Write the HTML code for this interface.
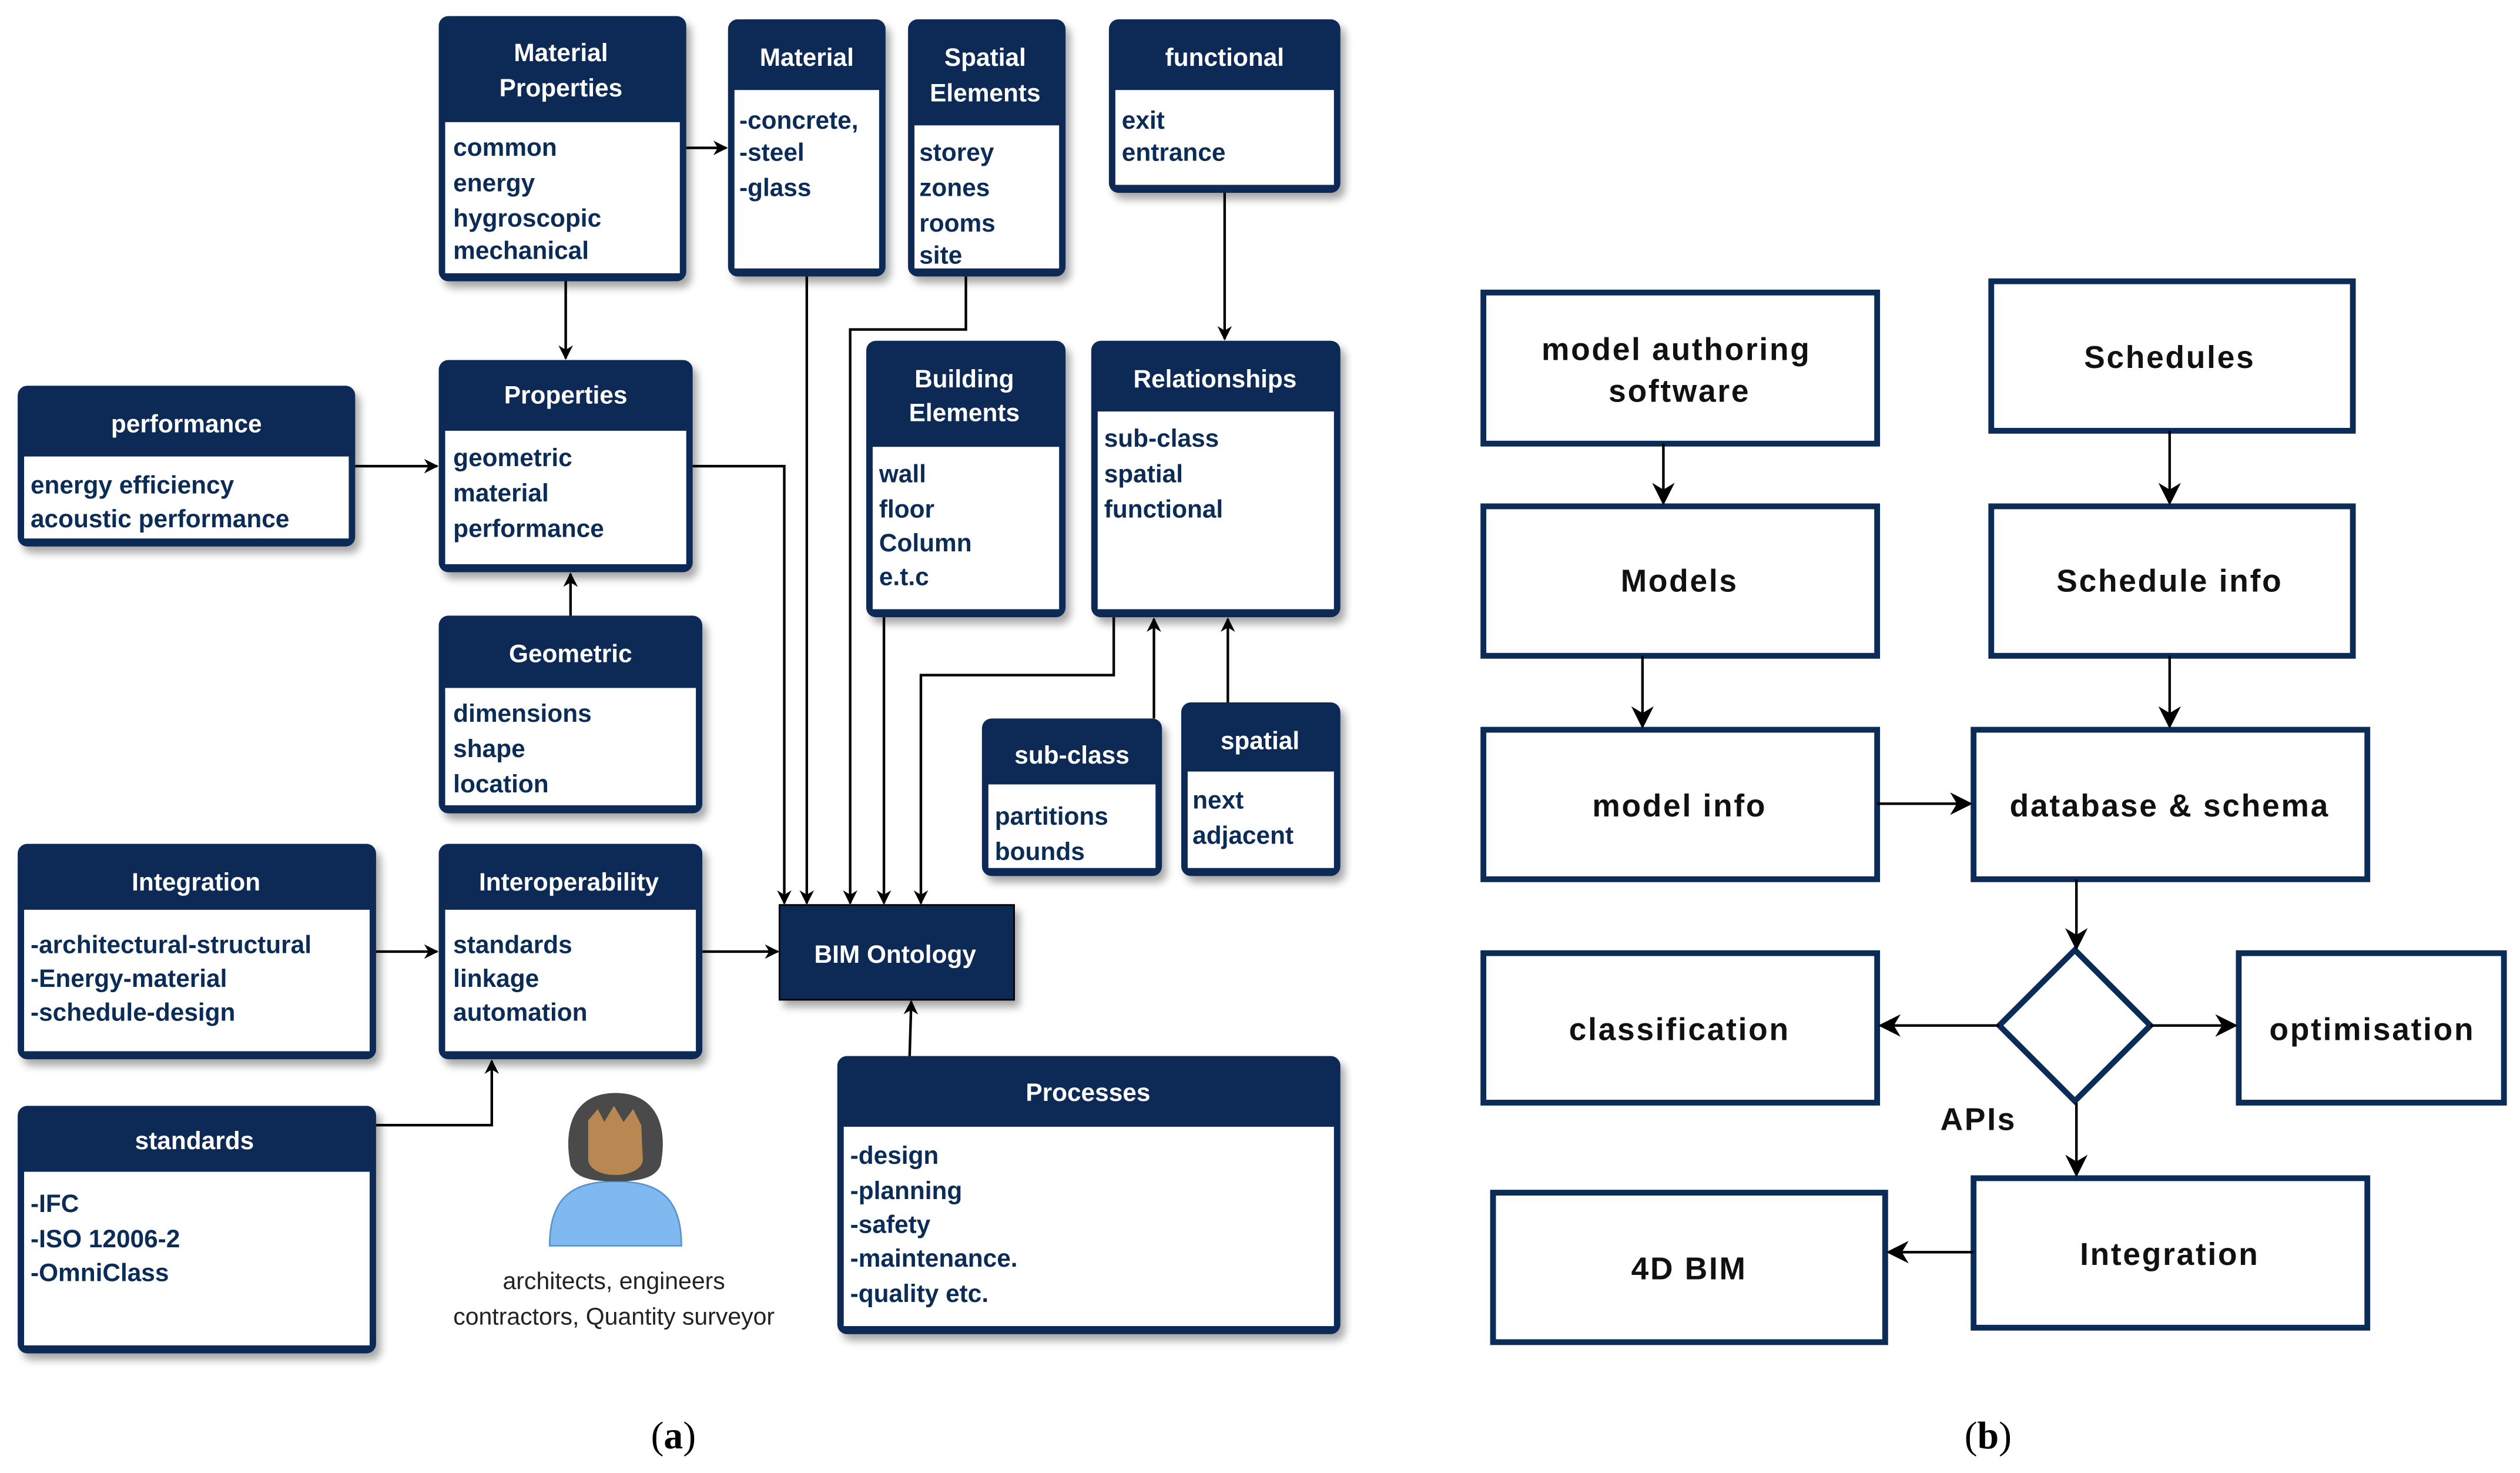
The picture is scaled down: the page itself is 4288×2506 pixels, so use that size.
<!DOCTYPE html>
<html><head><meta charset="utf-8">
<style>
html,body{margin:0;padding:0;background:#fff;width:4288px;height:2506px;overflow:hidden}
svg{display:block}
.t{font-family:"Liberation Sans",sans-serif;font-weight:bold;font-size:15.5px;fill:#fff}
.b{font-family:"Liberation Sans",sans-serif;font-weight:bold;font-size:15.5px;fill:#0b2c57}
.r{font-family:"Liberation Sans",sans-serif;font-weight:bold;font-size:19.5px;fill:#111;letter-spacing:1px}
.c{font-family:"Liberation Sans",sans-serif;font-size:15px;fill:#222}
.l{fill:none;stroke:#000;stroke-width:1.6}
.bx{fill:#fff;stroke:#0b2c57;stroke-width:3.6}
</style></head><body>
<svg width="4288" height="2506" viewBox="0 0 1568 916.4" preserveAspectRatio="none" xmlns="http://www.w3.org/2000/svg">
<defs>
<marker id="a" viewBox="0 0 10 10" refX="9" refY="5" markerWidth="9" markerHeight="9" markerUnits="userSpaceOnUse" orient="auto"><path d="M0,0 L10,5 L0,10 L3,5 z" fill="#000"/></marker>
<marker id="a2" viewBox="0 0 10 10" refX="9" refY="5" markerWidth="14" markerHeight="14" markerUnits="userSpaceOnUse" orient="auto"><path d="M0,0 L10,5 L0,10 L3,5 z" fill="#000"/></marker>
<filter id="sh" x="-10%" y="-10%" width="130%" height="130%"><feGaussianBlur in="SourceAlpha" stdDeviation="2.5"/><feOffset dx="3" dy="4"/><feComponentTransfer><feFuncA type="linear" slope="0.35"/></feComponentTransfer><feMerge><feMergeNode/><feMergeNode in="SourceGraphic"/></feMerge></filter>
</defs>
<rect width="1568" height="916.4" fill="#fff"/>

<!-- connectors left -->
<g class="l">
<path d="M427,92 H452" marker-end="url(#a)"/>
<path d="M352,175 V223" marker-end="url(#a)"/>
<path d="M221,290 H272" marker-end="url(#a)"/>
<path d="M355,383 V357" marker-end="url(#a)"/>
<path d="M431,290 H488 V562" marker-end="url(#a)"/>
<path d="M502,172 V562" marker-end="url(#a)"/>
<path d="M601,172 V205 H529 V562" marker-end="url(#a)"/>
<path d="M550,384 V562" marker-end="url(#a)"/>
<path d="M693,384 V420 H573 V562" marker-end="url(#a)"/>
<path d="M762,120 V211" marker-end="url(#a)"/>
<path d="M718,447 V385" marker-end="url(#a)"/>
<path d="M764,437 V385" marker-end="url(#a)"/>
<path d="M234,592 H272" marker-end="url(#a)"/>
<path d="M437,592 H484" marker-end="url(#a)"/>
<path d="M234,700 H306 V660" marker-end="url(#a)"/>
<path d="M566,657 L567,623" marker-end="url(#a)"/>
</g>

<!-- boxes left -->
<g filter="url(#sh)">
<!-- Material Properties -->
<rect x="273" y="10" width="154" height="165" rx="6" fill="#0b2c57"/><rect x="277" y="76" width="146" height="94" fill="#fff"/>
<!-- Material -->
<rect x="453" y="12" width="98" height="160" rx="6" fill="#0b2c57"/><rect x="457" y="56" width="90" height="111" fill="#fff"/>
<!-- Spatial -->
<rect x="565" y="12" width="98" height="160" rx="6" fill="#0b2c57"/><rect x="569" y="78" width="90" height="89" fill="#fff"/>
<!-- functional -->
<rect x="690" y="12" width="144" height="108" rx="6" fill="#0b2c57"/><rect x="694" y="56" width="136" height="59" fill="#fff"/>
<!-- Properties -->
<rect x="273" y="224" width="158" height="132" rx="6" fill="#0b2c57"/><rect x="277" y="268" width="150" height="83" fill="#fff"/>
<!-- performance -->
<rect x="11" y="240" width="210" height="100" rx="6" fill="#0b2c57"/><rect x="15" y="284" width="202" height="51" fill="#fff"/>
<!-- Building Elements -->
<rect x="539" y="212" width="124" height="172" rx="6" fill="#0b2c57"/><rect x="543" y="278" width="116" height="101" fill="#fff"/>
<!-- Relationships -->
<rect x="679" y="212" width="155" height="172" rx="6" fill="#0b2c57"/><rect x="683" y="256" width="147" height="123" fill="#fff"/>
<!-- Geometric -->
<rect x="273" y="383" width="164" height="123" rx="6" fill="#0b2c57"/><rect x="277" y="428" width="156" height="73" fill="#fff"/>
<!-- sub-class -->
<rect x="611" y="447" width="112" height="98" rx="6" fill="#0b2c57"/><rect x="615" y="488" width="104" height="52" fill="#fff"/>
<!-- spatial -->
<rect x="735" y="437" width="99" height="108" rx="6" fill="#0b2c57"/><rect x="739" y="480" width="91" height="60" fill="#fff"/>
<!-- Integration -->
<rect x="11" y="525" width="223" height="134" rx="6" fill="#0b2c57"/><rect x="15" y="566" width="215" height="88" fill="#fff"/>
<!-- Interoperability -->
<rect x="273" y="525" width="164" height="134" rx="6" fill="#0b2c57"/><rect x="277" y="566" width="156" height="88" fill="#fff"/>
<!-- standards -->
<rect x="11" y="688" width="223" height="154" rx="6" fill="#0b2c57"/><rect x="15" y="729" width="215" height="108" fill="#fff"/>
<!-- Processes -->
<rect x="521" y="657" width="313" height="173" rx="6" fill="#0b2c57"/><rect x="525" y="701" width="305" height="124" fill="#fff"/>
<!-- BIM -->
<rect x="485" y="563" width="146" height="59" fill="#0b2c57" stroke="#000" stroke-width="1"/>
</g>

<!-- titles -->
<g class="t" text-anchor="middle">
<text x="349" y="38">Material</text><text x="349" y="60">Properties</text>
<text x="502" y="41">Material</text>
<text x="613" y="41">Spatial</text><text x="613" y="63">Elements</text>
<text x="762" y="41">functional</text>
<text x="352" y="251">Properties</text>
<text x="116" y="269">performance</text>
<text x="600" y="241">Building</text><text x="600" y="262">Elements</text>
<text x="756" y="241">Relationships</text>
<text x="355" y="412">Geometric</text>
<text x="667" y="475">sub-class</text>
<text x="784" y="466">spatial</text>
<text x="122" y="554">Integration</text>
<text x="354" y="554">Interoperability</text>
<text x="121" y="715">standards</text>
<text x="677" y="685">Processes</text>
<text x="557" y="599">BIM Ontology</text>
</g>

<!-- bodies -->
<g class="b">
<text x="282" y="97">common</text><text x="282" y="119">energy</text><text x="282" y="141">hygroscopic</text><text x="282" y="161">mechanical</text>
<text x="460" y="80">-concrete,</text><text x="460" y="100">-steel</text><text x="460" y="122">-glass</text>
<text x="572" y="100">storey</text><text x="572" y="122">zones</text><text x="572" y="144">rooms</text><text x="572" y="164">site</text>
<text x="698" y="80">exit</text><text x="698" y="100">entrance</text>
<text x="282" y="290">geometric</text><text x="282" y="312">material</text><text x="282" y="334">performance</text>
<text x="19" y="307">energy efficiency</text><text x="19" y="328">acoustic performance</text>
<text x="547" y="300">wall</text><text x="547" y="322">floor</text><text x="547" y="343">Column</text><text x="547" y="364">e.t.c</text>
<text x="687" y="278">sub-class</text><text x="687" y="300">spatial</text><text x="687" y="322">functional</text>
<text x="282" y="449">dimensions</text><text x="282" y="471">shape</text><text x="282" y="493">location</text>
<text x="619" y="513">partitions</text><text x="619" y="535">bounds</text>
<text x="742" y="503">next</text><text x="742" y="525">adjacent</text>
<text x="19" y="593">-architectural-structural</text><text x="19" y="614">-Energy-material</text><text x="19" y="635">-schedule-design</text>
<text x="282" y="593">standards</text><text x="282" y="614">linkage</text><text x="282" y="635">automation</text>
<text x="19" y="754">-IFC</text><text x="19" y="776">-ISO 12006-2</text><text x="19" y="797">-OmniClass</text>
<text x="529" y="724">-design</text><text x="529" y="746">-planning</text><text x="529" y="767">-safety</text><text x="529" y="788">-maintenance.</text><text x="529" y="810">-quality etc.</text>
</g>

<!-- person -->
<g>
<path d="M342,775 C342,745 356,735 383,735 C410,735 424,745 424,775 Z" fill="#7fb9ef" stroke="#5a95cf" stroke-width="1"/>
<path d="M355,725 C350,700 358,680 383,680 C408,680 416,700 411,725 C408,732 400,735 383,735 C366,735 358,732 355,725 Z" fill="#4a4a4a"/>
<path d="M366,697 L372,690 L376,698 L382,688 L388,698 L394,690 L399,700 L400,722 C398,734 368,734 366,722 Z" fill="#b98752"/>
</g>
<g class="c" text-anchor="middle">
<text x="382" y="802">architects, engineers</text>
<text x="382" y="824">contractors, Quantity surveyor</text>
</g>

<!-- right diagram -->
<g class="bx">
<rect x="923" y="182" width="245" height="94"/>
<rect x="1239" y="175" width="225" height="93"/>
<rect x="923" y="315" width="245" height="93"/>
<rect x="1239" y="315" width="225" height="93"/>
<rect x="923" y="454" width="245" height="93"/>
<rect x="1228" y="454" width="245" height="93"/>
<rect x="923" y="593" width="245" height="93"/>
<rect x="1393" y="593" width="165" height="93"/>
<rect x="929" y="742" width="244" height="93"/>
<rect x="1228" y="733" width="245" height="93"/>
<path d="M1291,591 L1338,638 L1291,685 L1244,638 Z"/>
</g>
<g class="l">
<path d="M1035,276 V313" marker-end="url(#a2)"/>
<path d="M1350,268 V313" marker-end="url(#a2)"/>
<path d="M1022,408 V452" marker-end="url(#a2)"/>
<path d="M1350,408 V452" marker-end="url(#a2)"/>
<path d="M1168,500 H1226" marker-end="url(#a2)"/>
<path d="M1292,547 V590" marker-end="url(#a2)"/>
<path d="M1244,638 H1170" marker-end="url(#a2)"/>
<path d="M1338,638 H1391" marker-end="url(#a2)"/>
<path d="M1292,686 V731" marker-end="url(#a2)"/>
<path d="M1228,779 H1175" marker-end="url(#a2)"/>
</g>
<g class="r" text-anchor="middle">
<text x="1043" y="224">model authoring</text><text x="1045" y="250">software</text>
<text x="1350" y="229">Schedules</text>
<text x="1045" y="368">Models</text>
<text x="1350" y="368">Schedule info</text>
<text x="1045" y="508">model info</text>
<text x="1350" y="508">database &amp; schema</text>
<text x="1045" y="647">classification</text>
<text x="1476" y="647">optimisation</text>
<text x="1231" y="703">APIs</text>
<text x="1051" y="796">4D BIM</text>
<text x="1350" y="787">Integration</text>
</g>

<g font-family="Liberation Serif, serif" font-size="24" fill="#000" text-anchor="middle">
<text x="419" y="901">(<tspan font-weight="bold">a</tspan>)</text>
<text x="1237" y="901">(<tspan font-weight="bold">b</tspan>)</text>
</g>
</svg>
</body></html>
